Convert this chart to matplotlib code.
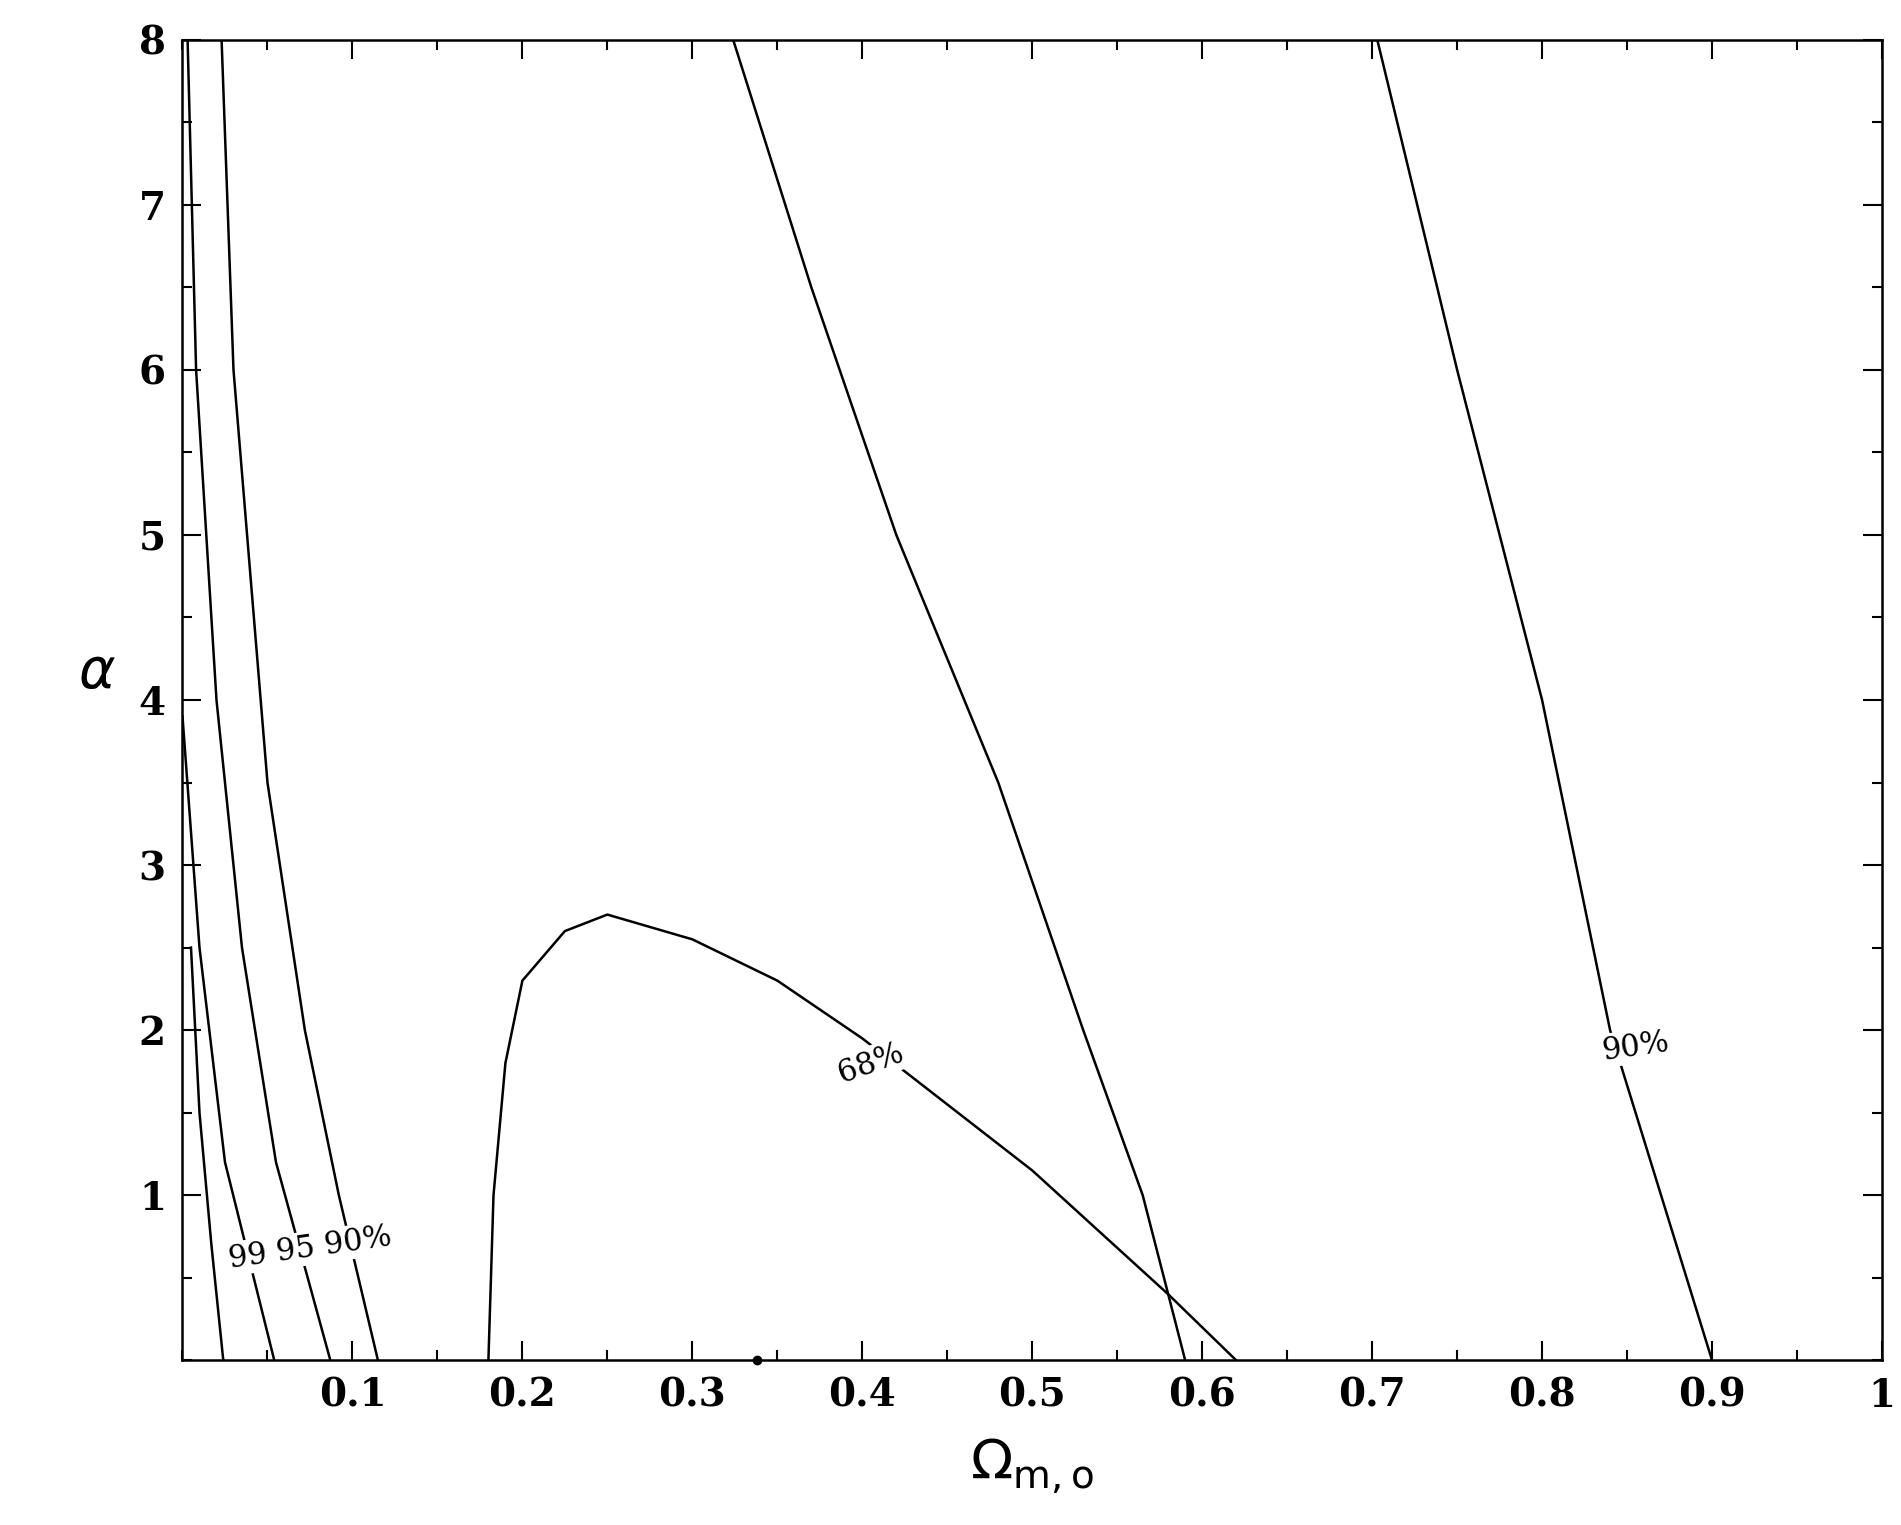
import numpy as np
import matplotlib.pyplot as plt
from matplotlib.ticker import MultipleLocator

# contour lines (Omega_m, alpha)
c1_x = [0.005, 0.01, 0.017, 0.024]
c1_y = [2.5, 1.5, 0.7, 0.0]
c2_x = [0.0, 0.01, 0.025, 0.054]
c2_y = [3.9, 2.5, 1.2, 0.0]
c3_x = [0.003, 0.008, 0.02, 0.035, 0.055, 0.087]
c3_y = [8.0, 6.0, 4.0, 2.5, 1.2, 0.0]
c4_x = [0.023, 0.03, 0.05, 0.072, 0.092, 0.115]
c4_y = [8.0, 6.0, 3.5, 2.0, 1.0, 0.0]
c68_x = [0.18, 0.183, 0.19, 0.2, 0.225, 0.25, 0.3, 0.35, 0.4, 0.5, 0.58, 0.62]
c68_y = [0.0, 1.0, 1.8, 2.3, 2.6, 2.7, 2.55, 2.3, 1.95, 1.15, 0.4, 0.0]
mid_x = [0.324, 0.37, 0.42, 0.48, 0.53, 0.565, 0.59]
mid_y = [8.0, 6.5, 5.0, 3.5, 2.0, 1.0, 0.0]
r90_x = [0.703, 0.75, 0.8, 0.84, 0.87, 0.9]
r90_y = [8.0, 6.0, 4.0, 2.0, 1.0, 0.0]
best = (0.338, 0.0)

fig = plt.figure(figsize=(19.01, 15.25), dpi=100)
ax = fig.add_axes([0.096, 0.108, 0.894, 0.866])
for xs, ys in [(c1_x, c1_y), (c2_x, c2_y), (c3_x, c3_y), (c4_x, c4_y),
               (c68_x, c68_y), (mid_x, mid_y), (r90_x, r90_y)]:
    ax.plot(xs, ys, color='black', lw=1.8)
ax.plot(*best, 'o', color='black', ms=6, clip_on=False)

lab = dict(fontsize=22, family='DejaVu Serif', ha='center', va='center',
           bbox=dict(fc='white', ec='none', pad=1))
ax.text(0.075, 0.68, '99 95 90%', rotation=8, **lab)
ax.text(0.405, 1.8, '68%', rotation=20, **lab)
ax.text(0.855, 1.9, '90%', rotation=8, **lab)

ax.set_xlim(0, 1)
ax.set_ylim(0, 8)
ax.set_xticks([0.1, 0.2, 0.3, 0.4, 0.5, 0.6, 0.7, 0.8, 0.9, 1.0])
ax.set_xticklabels(['0.1', '0.2', '0.3', '0.4', '0.5', '0.6', '0.7', '0.8', '0.9', '1'])
ax.set_yticks([1, 2, 3, 4, 5, 6, 7, 8])
ax.xaxis.set_minor_locator(MultipleLocator(0.05))
ax.yaxis.set_minor_locator(MultipleLocator(0.5))
ax.tick_params(which='both', direction='in', top=True, right=True, width=1.5)
ax.tick_params(which='major', length=14, labelsize=28, pad=12)
ax.tick_params(which='minor', length=7)
for t in ax.get_xticklabels() + ax.get_yticklabels():
    t.set_family('DejaVu Serif')
    t.set_fontweight('bold')
for s in ax.spines.values():
    s.set_linewidth(1.8)
ax.set_xlabel(r'$\Omega_{\rm m,o}$', fontsize=40, labelpad=15)
ax.set_ylabel(r'$\alpha$', fontsize=40, rotation=0, labelpad=30)
fig.savefig('out.png')
